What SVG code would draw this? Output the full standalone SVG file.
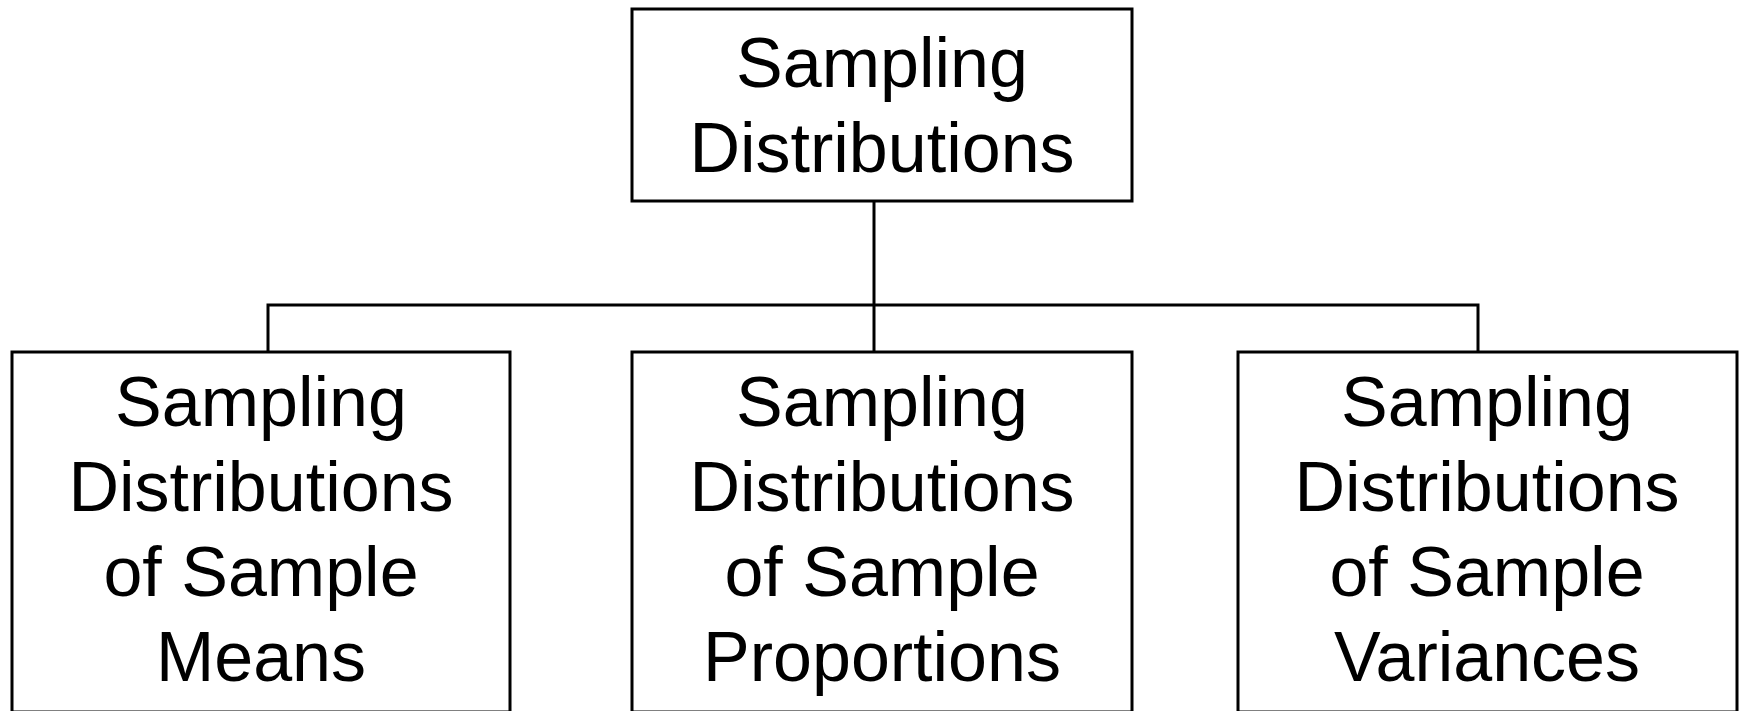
<svg xmlns="http://www.w3.org/2000/svg" width="1744" height="711" viewBox="0 0 1744 711">
<style>
.box{fill:#fff;stroke:#000;stroke-width:3}
.lbl{font-family:"Liberation Sans",Arial,sans-serif;font-size:70px;fill:#000;text-anchor:middle}
.conn{fill:none;stroke:#000;stroke-width:3}
</style>
<rect width="1744" height="711" fill="#fff"/>
<g id="connectors">
<path class="conn" d="M874 201 V352"/>
<path class="conn" d="M268 352 V305 H1478 V352"/>
</g>
<g id="root">
<rect class="box" x="632" y="9" width="500" height="192"/>
<text class="lbl" x="882" y="87">Sampling</text>
<text class="lbl" x="882" y="172">Distributions</text>
</g>
<g id="means">
<rect class="box" x="12" y="352" width="498" height="360"/>
<text class="lbl" x="261" y="426">Sampling</text>
<text class="lbl" x="261" y="511">Distributions</text>
<text class="lbl" x="261" y="596">of Sample</text>
<text class="lbl" x="261" y="681">Means</text>
</g>
<g id="proportions">
<rect class="box" x="632" y="352" width="500" height="360"/>
<text class="lbl" x="882" y="426">Sampling</text>
<text class="lbl" x="882" y="511">Distributions</text>
<text class="lbl" x="882" y="596">of Sample</text>
<text class="lbl" x="882" y="681">Proportions</text>
</g>
<g id="variances">
<rect class="box" x="1238" y="352" width="499" height="360"/>
<text class="lbl" x="1487" y="426">Sampling</text>
<text class="lbl" x="1487" y="511">Distributions</text>
<text class="lbl" x="1487" y="596">of Sample</text>
<text class="lbl" x="1487" y="681">Variances</text>
</g>
</svg>
